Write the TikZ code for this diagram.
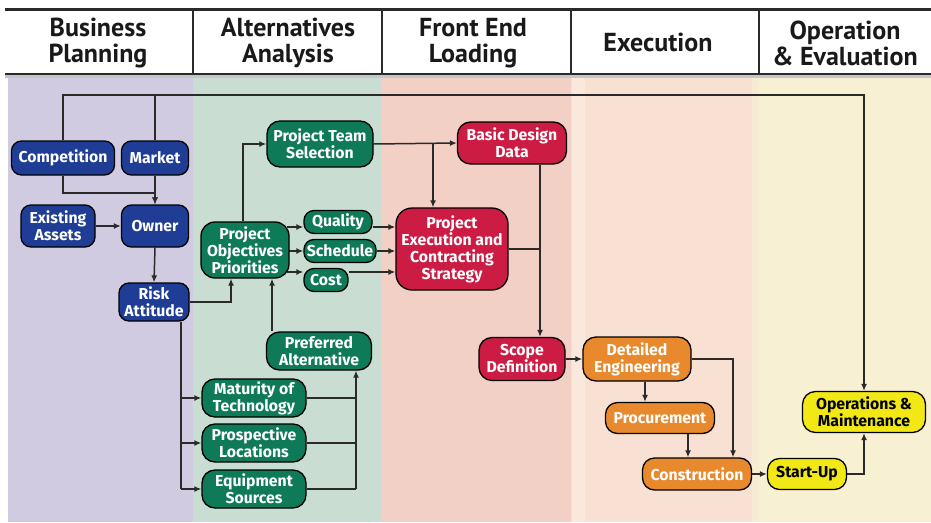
\documentclass[tikz,border=0pt]{standalone}
\usepackage{fontspec}
\setmainfont{PT Sans}
\newfontfamily\nodefont{Fira Sans}
\usetikzlibrary{arrows.meta}
\definecolor{bandA}{HTML}{D1CBE2}
\definecolor{bandB}{HTML}{CADDD2}
\definecolor{bandC}{HTML}{F2D0C6}
\definecolor{bandD}{HTML}{F8E0D2}
\definecolor{bandE}{HTML}{F8F0D3}
\definecolor{cblue}{HTML}{1F3D95}
\definecolor{cgreen}{HTML}{0E7A58}
\definecolor{cred}{HTML}{CC1C44}
\definecolor{corange}{HTML}{E8892E}
\definecolor{cyellow}{HTML}{F1E815}
\definecolor{linec}{HTML}{2A2A2A}
\pgfdeclarelayer{bg}
\pgfdeclarelayer{lines}
\pgfsetlayers{bg,lines,main}
\begin{document}
\begin{tikzpicture}[x=1pt,y=-1pt,
  box/.style={draw=black, line width=1.3pt, rounded corners=10pt, align=center, text=white,
    font=\nodefont\bfseries\fontsize{15.8}{17}\selectfont, inner sep=0.5pt},
  bl/.style={box, fill=cblue},
  gr/.style={box, fill=cgreen},
  rd/.style={box, fill=cred},
  og/.style={box, fill=corange},
  yl/.style={box, fill=cyellow, text=black},
  sz/.style 2 args={minimum width=#1pt, minimum height=#2pt},
  conn/.style={draw=linec, line width=1.5pt},
  arr/.style={conn, -{Latex[length=7pt,width=6pt]}},
  head/.style={align=center, font=\bfseries\fontsize{26}{26}\selectfont, text=black!90},
]
\useasboundingbox (0,0) rectangle (931,522);

% nodes
\node[bl, sz={103}{34}] (comp) at (63,158) {Competition};
\node[bl, sz={67}{34}] (mkt) at (155,158) {Market};
\node[bl, sz={74}{42}] (exist) at (58,226) {Existing\\Assets};
\node[bl, sz={67}{42}] (owner) at (155,226) {Owner};
\node[bl, sz={70}{38}] (risk) at (154,302) {Risk\\Attitude};
\node[gr, sz={88}{56}, rounded corners=14pt] (pop) at (245,250) {Project\\Objectives\\Priorities};
\node[gr, sz={106}{46}, rounded corners=13pt] (pts) at (320,144) {Project Team\\Selection};
\node[gr, sz={68}{23}] (qual) at (338,222) {Quality};
\node[gr, sz={72}{23}] (sched) at (340,251) {Schedule};
\node[gr, sz={44}{23}] (cost) at (326,280) {Cost};
\node[rd, sz={112}{82}, rounded corners=16pt] (pecs) at (452,249) {Project\\Execution and\\Contracting\\Strategy};
\node[rd, sz={109}{42}, rounded corners=13pt] (bdd) at (512,143) {Basic Design\\Data};
\node[gr, sz={105}{38}, rounded corners=13pt] (pa) at (319,351) {Preferred\\Alternative};
\node[gr, sz={104}{38}, rounded corners=13pt] (mat) at (254,398) {Maturity of\\Technology};
\node[gr, sz={104}{38}, rounded corners=13pt] (pros) at (254,443) {Prospective\\Locations};
\node[gr, sz={104}{38}, rounded corners=13pt] (eq) at (254,489) {Equipment\\Sources};
\node[rd, sz={86}{43}, rounded corners=13pt] (scope) at (522,359) {Scope\\Definition};
\node[og, sz={108}{44}, rounded corners=13pt] (de) at (637,359) {Detailed\\Engineering};
\node[og, sz={109}{31}, rounded corners=12pt] (proc) at (660,418) {Procurement};
\node[og, sz={109}{32}, rounded corners=12pt] (constr) at (697,474) {Construction};
\node[yl, sz={79}{31}, rounded corners=12pt] (start) at (807,474) {Start-Up};
\node[yl, sz={123}{41}, rounded corners=13pt] (om) at (864,412) {Operations \&\\Maintenance};

% headers
\node[head] (h1) at (98,43) {Business\\Planning};
\node[head] (h2) at (288,43) {Alternatives\\Analysis};
\node[head] (h3) at (473,43) {Front End\\Loading};
\node[head] (h4) at (658,42) {Execution};
\node[head] (h5) at (845,43) {Operation\\\& Evaluation};

\begin{pgfonlayer}{bg}
  \fill[bandA] (8,78) rectangle (193,522);
  \fill[bandB] (193,78) rectangle (382,522);
  \fill[bandC] (382,78) rectangle (571,522);
  \fill[bandD] (571,78) rectangle (759,522);
  \fill[bandE] (759,78) rectangle (931,522);
  \fill[bandD!75!white] (572,78) rectangle (585,522);
  \fill[bandE!70!bandD] (752,78) rectangle (759,522);
  \fill[white] (5,9) rectangle (931,74);
  \fill[gray!45] (5,74) rectangle (931,78);
  \draw[linec, line width=2.6pt] (5,9.5) -- (931,9.5);
  \draw[linec, line width=1.6pt] (5,74) -- (931,74);
  \foreach \xx in {193,382,571,759} \draw[linec, line width=1.4pt] (\xx,9) -- (\xx,75);
\end{pgfonlayer}

\begin{pgfonlayer}{lines}
  \coordinate (top) at (0,95);
  % top loop to Operations & Maintenance
  \draw[arr] (comp.north) |- (top -| om.north) -- (om.north);
  \draw[conn] (mkt.north) -- (mkt.north |- top);
  % to owner
  \coordinate (cj) at (0,193);
  \draw[arr] (comp.south) |- (cj -| owner.north) -- (owner.north);
  \draw[arr] (mkt.south) -- (owner.north);
  \draw[arr] (exist.east) -- (owner.west);
  \draw[arr] (owner.south) -- (risk.north);
  % risk -> objectives
  \draw[arr] (risk.east) -| ([xshift=-14pt]pop.south);
  % objectives -> team selection
  \draw[arr] ([xshift=-2pt]pop.north) |- (pts.west);
  % objectives -> quality/schedule/cost
  \coordinate (yq) at (0,227);
  \coordinate (yc) at (0,272);
  \draw[arr] ([xshift=-3pt]pop.east |- yq) -- (qual.west |- yq);
  \draw[arr] ([xshift=-3pt]pop.east |- sched.west) -- (sched.west);
  \draw[arr] ([xshift=-3pt]pop.east |- yc) -- (cost.west |- yc);
  % q/s/c -> strategy
  \draw[arr] (qual.east |- yq) -- (pecs.west |- yq);
  \draw[arr] (sched.east) -- (pecs.west |- sched.east);
  \draw[arr] (cost.east |- yc) -- (pecs.west |- yc);
  % team selection -> basic design data, strategy
  \draw[arr] (pts.east) -- (bdd.west);
  \coordinate (tj) at (433,144);
  \draw[arr] (tj) -- (tj |- pecs.north);
  % basic design -> scope
  \coordinate (bj) at ([xshift=28pt]bdd.south);
  \draw[arr] (bj) -- (bj |- scope.north);
  \draw[conn] (pecs.east) -- (bj |- pecs.east);
  % execution chain
  \draw[arr] (scope.east) -- (de.west);
  \draw[arr] ([xshift=8pt]de.south) -- ([xshift=8pt]de.south |- proc.north);
  \draw[arr] (de.east) -| ([xshift=36pt]constr.north);
  \draw[arr] ([xshift=28pt]proc.south) -- ([xshift=28pt]proc.south |- constr.north);
  \draw[arr] (constr.east) -- (start.west);
  \draw[arr] (start.east) -| (om.south);
  % risk -> alternatives inputs
  \coordinate (rt) at ([xshift=27pt]risk.south);
  \draw[conn] (rt) -- (rt |- eq.west);
  \draw[arr] (rt |- mat.west) -- (mat.west);
  \draw[arr] (rt |- pros.west) -- (pros.west);
  \draw[arr] (rt |- eq.west) -- (eq.west);
  % inputs -> preferred alternative
  \coordinate (pv) at ([xshift=37pt]pa.south);
  \draw[conn] (mat.east) -- (pv |- mat.east);
  \draw[conn] (pros.east) -- (pv |- pros.east);
  \draw[conn] (eq.east) -- (pv |- eq.east);
  \draw[arr] (pv |- eq.east) -- (pv);
  % preferred alternative -> objectives
  \draw[arr] ([xshift=-47pt]pa.north) -- ([xshift=-47pt]pa.north |- pop.south);
\end{pgfonlayer}
\end{tikzpicture}
\end{document}
